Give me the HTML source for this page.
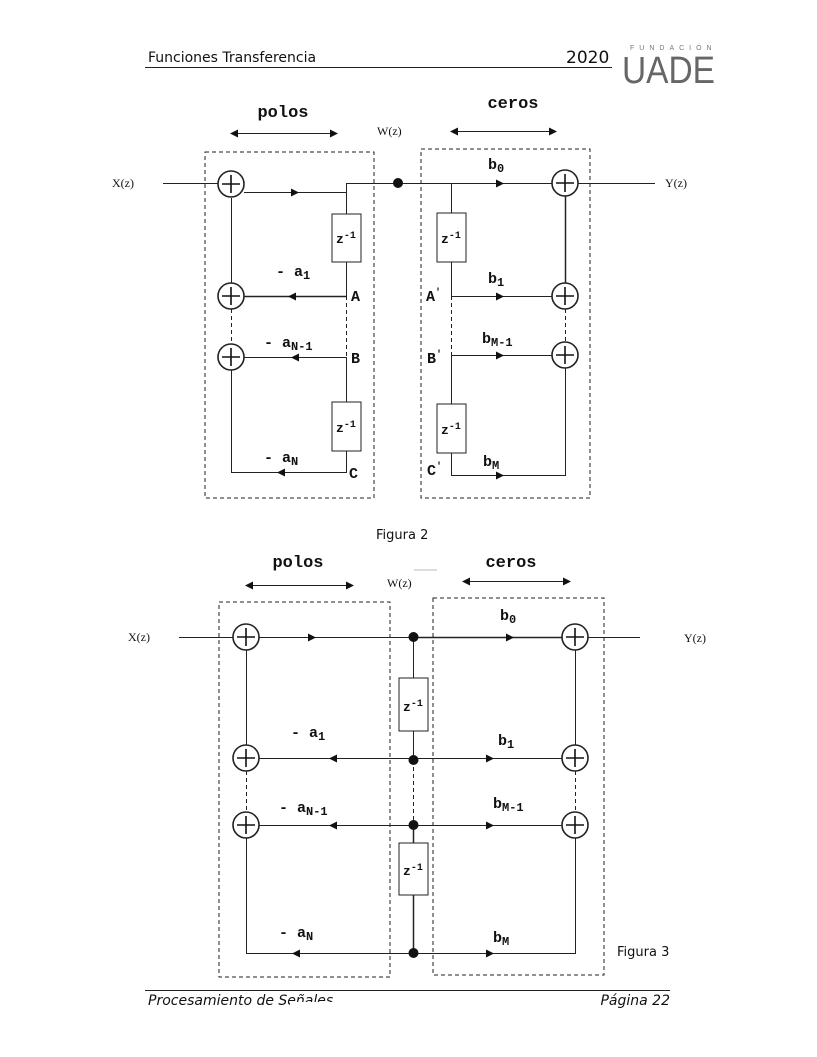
<!DOCTYPE html>
<html><head><meta charset="utf-8"><style>
html,body{margin:0;padding:0;background:#fff;}
svg{display:block}
.m{font-family:"Liberation Mono",monospace;font-weight:bold;fill:#111}
.s{font-family:"Liberation Serif",serif;fill:#111;font-size:12px}
.v{font-family:"DejaVu Sans","Liberation Sans",sans-serif;fill:#111}
</style></head><body>
<svg width="817" height="1057" viewBox="0 0 817 1057" xmlns="http://www.w3.org/2000/svg">
<line x1="145" y1="67.5" x2="612" y2="67.5" stroke="#222"/>
<text class="v" x="148" y="62" font-size="14">Funciones Transferencia</text>
<text class="v" x="566" y="63" font-size="17">2020</text>
<text x="630" y="50" font-family="Liberation Sans,sans-serif" font-size="7" fill="#777" letter-spacing="5">FUNDACIÓN</text>
<text x="622" y="83" font-family="Liberation Sans,sans-serif" font-size="38" fill="#666" textLength="93" lengthAdjust="spacingAndGlyphs">UADE</text>

<!-- FIGURE 2 -->
<text class="m" x="283" y="117" font-size="17" text-anchor="middle">polos</text>
<text class="m" x="513" y="108" font-size="17" text-anchor="middle">ceros</text>
<text class="s" x="377" y="135">W(z)</text>
<text class="s" x="112" y="187">X(z)</text>
<text class="s" x="665" y="187">Y(z)</text>
<g stroke="#222" fill="none">
<line x1="236" y1="133.5" x2="332" y2="133.5"/>
<line x1="456" y1="131.5" x2="551" y2="131.5"/>
<rect x="205" y="152" width="169" height="346" stroke-dasharray="4,3"/>
<rect x="421" y="149" width="169" height="349" stroke-dasharray="4,3"/>
<line x1="163" y1="183.5" x2="218" y2="183.5"/>
<line x1="244" y1="192.5" x2="346" y2="192.5"/>
<polyline points="346.5,214 346.5,183.5 552,183.5"/>
<line x1="578" y1="183.5" x2="655" y2="183.5"/>
<rect x="332" y="214" width="29" height="48"/>
<line x1="346.5" y1="262" x2="346.5" y2="296"/>
<line x1="346.5" y1="296" x2="346.5" y2="357" stroke-dasharray="4,3"/>
<line x1="346.5" y1="357" x2="346.5" y2="402"/>
<rect x="332" y="402" width="29" height="49"/>
<polyline points="346.5,451 346.5,472.5 231.5,472.5 231.5,370"/>
<line x1="244" y1="296.5" x2="346" y2="296.5" stroke-width="1.5"/>
<line x1="244" y1="357.5" x2="346" y2="357.5"/>
<line x1="231.5" y1="198" x2="231.5" y2="283"/>
<line x1="231.5" y1="309" x2="231.5" y2="344" stroke-dasharray="4,3"/>
<circle cx="231" cy="184" r="13" stroke-width="1.6"/>
<circle cx="231" cy="296" r="13" stroke-width="1.6"/>
<circle cx="231" cy="357" r="13" stroke-width="1.6"/>
<polyline points="451.5,183.5 451.5,213"/>
<rect x="437" y="213" width="29" height="49"/>
<line x1="451.5" y1="262" x2="451.5" y2="296"/>
<line x1="451.5" y1="296" x2="451.5" y2="354" stroke-dasharray="4,3"/>
<line x1="451.5" y1="354" x2="451.5" y2="404"/>
<rect x="437" y="404" width="29" height="49"/>
<polyline points="451.5,453 451.5,475.5 565.5,475.5 565.5,368"/>
<line x1="451" y1="296.5" x2="552" y2="296.5"/>
<line x1="451" y1="355.5" x2="552" y2="355.5"/>
<line x1="565.5" y1="196" x2="565.5" y2="283" stroke-width="1.5"/>
<line x1="565.5" y1="309" x2="565.5" y2="342" stroke-dasharray="4,3"/>
<circle cx="565" cy="183" r="13" stroke-width="1.6"/>
<circle cx="565" cy="296" r="13" stroke-width="1.6"/>
<circle cx="565" cy="355" r="13" stroke-width="1.6"/>
</g>
<g stroke="#111" stroke-width="1.6">
<line x1="222" y1="184" x2="240" y2="184"/><line x1="231" y1="175" x2="231" y2="193"/>
<line x1="222" y1="296" x2="240" y2="296"/><line x1="231" y1="287" x2="231" y2="305"/>
<line x1="222" y1="357" x2="240" y2="357"/><line x1="231" y1="348" x2="231" y2="366"/>
<line x1="556" y1="183" x2="574" y2="183"/><line x1="565" y1="174" x2="565" y2="192"/>
<line x1="556" y1="296" x2="574" y2="296"/><line x1="565" y1="287" x2="565" y2="305"/>
<line x1="556" y1="355" x2="574" y2="355"/><line x1="565" y1="346" x2="565" y2="364"/>
</g>
<g fill="#111">
<polygon points="230,133.5 238,129.5 238,137.5"/><polygon points="338,133.5 330,129.5 330,137.5"/>
<polygon points="450,131.5 458,127.5 458,135.5"/><polygon points="557,131.5 549,127.5 549,135.5"/>
<polygon points="299,192.5 291,188.5 291,196.5"/>
<polygon points="288,296.5 296,292.5 296,300.5"/>
<polygon points="291,357.5 299,353.5 299,361.5"/>
<polygon points="277,472.5 285,468.5 285,476.5"/>
<polygon points="504,183.5 496,179.5 496,187.5"/>
<polygon points="504,296.5 496,292.5 496,300.5"/>
<polygon points="504,355.5 496,351.5 496,359.5"/>
<polygon points="504,475.5 496,471.5 496,479.5"/>
<circle cx="398" cy="183" r="5"/>
</g>
<g class="m" font-size="15">
<text x="276" y="276">- a<tspan font-size="12" dy="3">1</tspan></text>
<text x="264" y="347">- a<tspan font-size="12" dy="3">N-1</tspan></text>
<text x="264" y="462">- a<tspan font-size="12" dy="3">N</tspan></text>
<text x="351" y="301">A</text><text x="351" y="363">B</text><text x="349" y="478">C</text>
<text x="488" y="169">b<tspan font-size="12" dy="3">0</tspan></text>
<text x="488" y="283">b<tspan font-size="12" dy="3">1</tspan></text>
<text x="482" y="343">b<tspan font-size="12" dy="3">M-1</tspan></text>
<text x="483" y="466">b<tspan font-size="12" dy="3">M</tspan></text>
<text x="426" y="301">A<tspan font-size="10" dy="-6">'</tspan></text>
<text x="427" y="363">B<tspan font-size="10" dy="-6">'</tspan></text>
<text x="427" y="475">C<tspan font-size="10" dy="-6">'</tspan></text>
</g>
<g class="m" font-size="13">
<text x="336" y="243">z<tspan font-size="10" dy="-5">-1</tspan></text>
<text x="336" y="432">z<tspan font-size="10" dy="-5">-1</tspan></text>
<text x="441" y="243">z<tspan font-size="10" dy="-5">-1</tspan></text>
<text x="441" y="434">z<tspan font-size="10" dy="-5">-1</tspan></text>
</g>
<text class="v" x="376" y="539" font-size="13">Figura 2</text>

<!-- FIGURE 3 -->
<text class="m" x="298" y="567" font-size="17" text-anchor="middle">polos</text>
<text class="m" x="511" y="567" font-size="17" text-anchor="middle">ceros</text>
<line x1="414" y1="570" x2="437" y2="570" stroke="#bbb"/>
<text class="s" x="387" y="587">W(z)</text>
<text class="s" x="128" y="641">X(z)</text>
<text class="s" x="684" y="642">Y(z)</text>
<g stroke="#222" fill="none">
<line x1="251" y1="585.5" x2="348" y2="585.5"/>
<line x1="468" y1="581.5" x2="565" y2="581.5"/>
<rect x="219" y="602" width="171" height="375" stroke-dasharray="4,3"/>
<rect x="433" y="598" width="171" height="377" stroke-dasharray="4,3"/>
<line x1="179" y1="637.5" x2="233" y2="637.5"/>
<line x1="259" y1="637.5" x2="562" y2="637.5"/>
<line x1="413" y1="637.5" x2="562" y2="637.5" stroke-width="1.5"/>
<line x1="588" y1="637.5" x2="640" y2="637.5"/>
<line x1="413.5" y1="637" x2="413.5" y2="678"/>
<rect x="399" y="678" width="29" height="53"/>
<line x1="413.5" y1="731" x2="413.5" y2="760"/>
<line x1="413.5" y1="760" x2="413.5" y2="825" stroke-dasharray="4,3"/>
<line x1="413.5" y1="825" x2="413.5" y2="843" stroke-width="1.5"/>
<rect x="399" y="843" width="29" height="52"/>
<line x1="413.5" y1="895" x2="413.5" y2="953" stroke-width="1.5"/>
<line x1="259" y1="758.5" x2="562" y2="758.5"/>
<line x1="259" y1="825.5" x2="562" y2="825.5"/>
<polyline points="246.5,838 246.5,953.5 575.5,953.5 575.5,838"/>
<line x1="246.5" y1="650" x2="246.5" y2="745"/>
<line x1="246.5" y1="771" x2="246.5" y2="812" stroke-dasharray="4,3"/>
<line x1="575.5" y1="650" x2="575.5" y2="745"/>
<line x1="575.5" y1="771" x2="575.5" y2="812" stroke-dasharray="4,3"/>
<circle cx="246" cy="637" r="13" stroke-width="1.6"/>
<circle cx="246" cy="758" r="13" stroke-width="1.6"/>
<circle cx="246" cy="825" r="13" stroke-width="1.6"/>
<circle cx="575" cy="637" r="13" stroke-width="1.6"/>
<circle cx="575" cy="758" r="13" stroke-width="1.6"/>
<circle cx="575" cy="825" r="13" stroke-width="1.6"/>
</g>
<g stroke="#111" stroke-width="1.6">
<line x1="237" y1="637" x2="255" y2="637"/><line x1="246" y1="628" x2="246" y2="646"/>
<line x1="237" y1="758" x2="255" y2="758"/><line x1="246" y1="749" x2="246" y2="767"/>
<line x1="237" y1="825" x2="255" y2="825"/><line x1="246" y1="816" x2="246" y2="834"/>
<line x1="566" y1="637" x2="584" y2="637"/><line x1="575" y1="628" x2="575" y2="646"/>
<line x1="566" y1="758" x2="584" y2="758"/><line x1="575" y1="749" x2="575" y2="767"/>
<line x1="566" y1="825" x2="584" y2="825"/><line x1="575" y1="816" x2="575" y2="834"/>
</g>
<g fill="#111">
<polygon points="245,585.5 253,581.5 253,589.5"/><polygon points="354,585.5 346,581.5 346,589.5"/>
<polygon points="462,581.5 470,577.5 470,585.5"/><polygon points="571,581.5 563,577.5 563,585.5"/>
<polygon points="316,637.5 308,633.5 308,641.5"/>
<polygon points="514,637.5 506,633.5 506,641.5"/>
<polygon points="329,758.5 337,754.5 337,762.5"/>
<polygon points="494,758.5 486,754.5 486,762.5"/>
<polygon points="329,825.5 337,821.5 337,829.5"/>
<polygon points="494,825.5 486,821.5 486,829.5"/>
<polygon points="292,953.5 300,949.5 300,957.5"/>
<polygon points="494,953.5 486,949.5 486,957.5"/>
<circle cx="413.5" cy="637" r="5"/>
<circle cx="413.5" cy="760" r="5"/>
<circle cx="413.5" cy="825" r="5"/>
<circle cx="413.5" cy="953" r="5"/>
</g>
<g class="m" font-size="15">
<text x="291" y="737">- a<tspan font-size="12" dy="3">1</tspan></text>
<text x="279" y="812">- a<tspan font-size="12" dy="3">N-1</tspan></text>
<text x="279" y="937">- a<tspan font-size="12" dy="3">N</tspan></text>
<text x="500" y="620">b<tspan font-size="12" dy="3">0</tspan></text>
<text x="498" y="745">b<tspan font-size="12" dy="3">1</tspan></text>
<text x="493" y="808">b<tspan font-size="12" dy="3">M-1</tspan></text>
<text x="493" y="942">b<tspan font-size="12" dy="3">M</tspan></text>
</g>
<g class="m" font-size="13">
<text x="403" y="711">z<tspan font-size="10" dy="-5">-1</tspan></text>
<text x="403" y="875">z<tspan font-size="10" dy="-5">-1</tspan></text>
</g>
<text class="v" x="617" y="956" font-size="13">Figura 3</text>

<line x1="145" y1="990.5" x2="670" y2="990.5" stroke="#222"/>
<text class="v" x="148" y="1005" font-size="14" font-style="italic">Procesamiento de Señales</text>
<rect x="290" y="1002" width="45" height="8" fill="#fff"/>
<text class="v" x="670" y="1005" font-size="14" font-style="italic" text-anchor="end">Página 22</text>
</svg>
</body></html>
